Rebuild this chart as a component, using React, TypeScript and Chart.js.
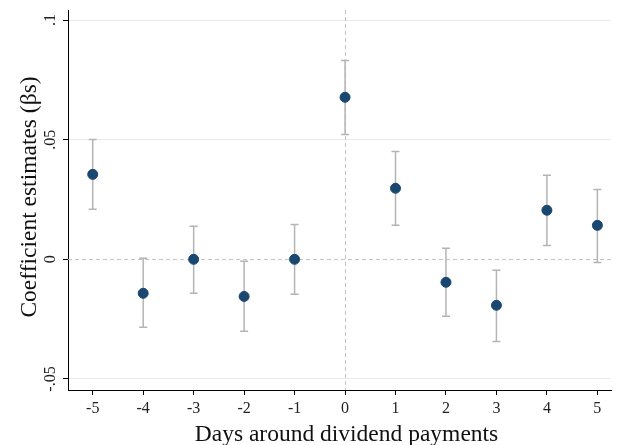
import React, { useEffect, useRef } from 'react';
import { Chart, registerables } from 'chart.js';

Chart.register(...registerables);

const days = [-5, -4, -3, -2, -1, 0, 1, 2, 3, 4, 5];
const estimates = [0.0355, -0.0142, 0.0, -0.0155, 0.0, 0.0677, 0.0297, -0.0096, -0.0192, 0.0205, 0.0142];
const upperCI = [0.0501, 0.0004, 0.0138, -0.0008, 0.0146, 0.0831, 0.0451, 0.0046, -0.0046, 0.0351, 0.0292];
const lowerCI = [0.0209, -0.0284, -0.0142, -0.0301, -0.0146, 0.0522, 0.0142, -0.0238, -0.0343, 0.0058, -0.0013];
const yTickValues = [-0.05, 0, 0.05, 0.1];
const yTickLabels = ['-.05', '0', '.05', '.1'];
const xTitle = 'Days around dividend payments';
const yTitle = 'Coefficient estimates (\u03b2s)';

const FONT = '"Liberation Serif", "DejaVu Serif", serif';

const overlayPlugin = {
  id: 'overlay',
  beforeDatasetsDraw(chart: any) {
    const { ctx, chartArea, scales } = chart;
    const x = scales.x;
    const y = scales.y;
    ctx.save();
    ctx.strokeStyle = '#C4C4C4';
    ctx.lineWidth = 1;
    ctx.setLineDash([4, 3]);
    const y0 = Math.round(y.getPixelForValue(0)) + 0.5;
    ctx.beginPath();
    ctx.moveTo(chartArea.left, y0);
    ctx.lineTo(chartArea.right, y0);
    ctx.stroke();
    const x0 = Math.round(x.getPixelForValue(0)) + 0.5;
    ctx.beginPath();
    ctx.moveTo(x0, chartArea.top);
    ctx.lineTo(x0, chartArea.bottom);
    ctx.stroke();
    ctx.setLineDash([]);
    ctx.strokeStyle = '#B4B4B4';
    ctx.lineWidth = 1.5;
    for (let i = 0; i < days.length; i++) {
      const px = x.getPixelForValue(days[i]);
      const pu = y.getPixelForValue(upperCI[i]);
      const pl = y.getPixelForValue(lowerCI[i]);
      ctx.beginPath();
      ctx.moveTo(px, pu);
      ctx.lineTo(px, pl);
      ctx.moveTo(px - 4, pu);
      ctx.lineTo(px + 4, pu);
      ctx.moveTo(px - 4, pl);
      ctx.lineTo(px + 4, pl);
      ctx.stroke();
    }
    ctx.restore();
  },
  afterDraw(chart: any) {
    const { ctx, chartArea, scales } = chart;
    const y = scales.y;
    ctx.save();
    ctx.fillStyle = '#222';
    ctx.font = `16px ${FONT}`;
    ctx.textAlign = 'center';
    ctx.textBaseline = 'alphabetic';
    yTickValues.forEach((v, i) => {
      const py = y.getPixelForValue(v);
      ctx.save();
      ctx.translate(55, py);
      ctx.rotate(-Math.PI / 2);
      ctx.fillText(yTickLabels[i], 0, 0);
      ctx.restore();
    });
    ctx.font = `23.5px ${FONT}`;
    ctx.fillStyle = '#111';
    ctx.save();
    ctx.translate(36, 197);
    ctx.rotate(-Math.PI / 2);
    ctx.fillText(yTitle, 0, 0);
    ctx.restore();
    ctx.fillText(xTitle, (chartArea.left + chartArea.right) / 2 + 7, 441);
    ctx.restore();
  },
};

export default function App() {
  const ref = useRef<HTMLCanvasElement>(null);
  useEffect(() => {
    if (!ref.current) return;
    const chart = new Chart(ref.current, {
      type: 'scatter',
      data: {
        datasets: [
          {
            data: days.map((d, i) => ({ x: d, y: estimates[i] })),
            backgroundColor: '#1A476F',
            borderColor: '#1A476F',
            pointRadius: 5,
            pointHoverRadius: 5,
          },
        ],
      },
      options: {
        responsive: false,
        animation: false,
        events: [],
        layout: { padding: { top: 10, right: 0, left: 0, bottom: 0 } },
        plugins: { legend: { display: false }, tooltip: { enabled: false } },
        scales: {
          x: {
            type: 'linear',
            min: -5.49,
            max: 5.27,
            afterBuildTicks: (s: any) => {
              s.ticks = days.map((v) => ({ value: v }));
            },
            afterFit: (s: any) => {
              s.height = 55;
            },
            grid: { drawOnChartArea: false, drawTicks: true, tickLength: 5, tickColor: '#000' },
            border: { display: true, color: '#000', width: 1 },
            ticks: {
              autoSkip: false,
              maxRotation: 0,
              padding: 4,
              color: '#222',
              font: { family: FONT, size: 16 },
              callback: (v: any) => String(v),
            },
          },
          y: {
            type: 'linear',
            min: -0.0546,
            max: 0.10418,
            afterBuildTicks: (s: any) => {
              s.ticks = yTickValues.map((v) => ({ value: v }));
            },
            afterFit: (s: any) => {
              s.width = 68;
            },
            grid: {
              drawOnChartArea: true,
              drawTicks: true,
              tickLength: 5,
              tickColor: '#000',
              color: (c: any) => (c.tick && c.tick.value === 0 ? 'rgba(0,0,0,0)' : '#E4ECEF'),
            },
            border: { display: true, color: '#000', width: 1 },
            ticks: { display: false },
          },
        },
      },
      plugins: [overlayPlugin],
    });
    return () => chart.destroy();
  }, []);
  return (
    <div style={{ position: 'fixed', left: 0, top: 0, width: 617, height: 445, background: '#fff' }}>
      <canvas ref={ref} width={617} height={445} />
    </div>
  );
}
